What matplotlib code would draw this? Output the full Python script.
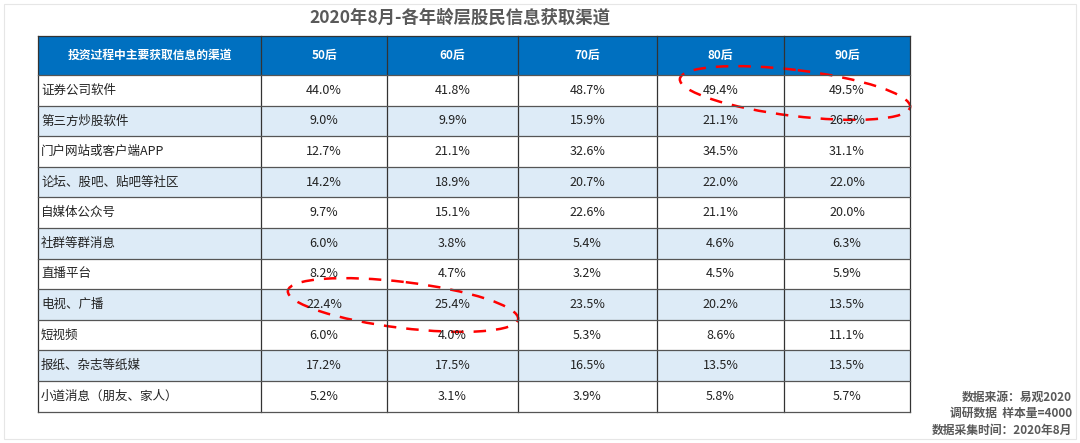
import matplotlib.pyplot as plt
from matplotlib.patches import Rectangle, Ellipse

plt.rcParams['font.family'] = ['Noto Sans CJK SC', 'DejaVu Sans']

title = '2020年8月-各年龄层股民信息获取渠道'
header = ['投资过程中主要获取信息的渠道', '50后', '60后', '70后', '80后', '90后']
channels = ['证券公司软件', '第三方炒股软件', '门户网站或客户端APP', '论坛、股吧、贴吧等社区',
            '自媒体公众号', '社群等群消息', '直播平台', '电视、广播', '短视频',
            '报纸、杂志等纸媒', '小道消息（朋友、家人）']
v50 = [44.0, 9.0, 12.7, 14.2, 9.7, 6.0, 8.2, 22.4, 6.0, 17.2, 5.2]
v60 = [41.8, 9.9, 21.1, 18.9, 15.1, 3.8, 4.7, 25.4, 4.0, 17.5, 3.1]
v70 = [48.7, 15.9, 32.6, 20.7, 22.6, 5.4, 3.2, 23.5, 5.3, 16.5, 3.9]
v80 = [49.4, 21.1, 34.5, 22.0, 21.1, 4.6, 4.5, 20.2, 8.6, 13.5, 5.8]
v90 = [49.5, 26.5, 31.1, 22.0, 20.0, 6.3, 5.9, 13.5, 11.1, 13.5, 5.7]
source = ['数据来源：易观2020', '调研数据  样本量=4000', '数据采集时间：2020年8月']

cols = [38, 261, 387, 518, 657, 784, 910]
top, head_h, row_h = 36, 39, 30.6

fig = plt.figure(figsize=(10.8, 4.43), dpi=100)
ax = fig.add_axes([0, 0, 1, 1])
ax.set_xlim(0, 1080)
ax.set_ylim(443, 0)
ax.axis('off')
ax.add_patch(Rectangle((4, 4), 1072, 435, fill=False, ec='#e6e6e6', lw=0.8))

ax.text(460, 18, title, ha='center', va='center', fontsize=12.5, weight='bold', color='#595959')

# header
ax.add_patch(Rectangle((cols[0], top), cols[-1] - cols[0], head_h, fc='#0070C0', ec='none'))
for i, h in enumerate(header):
    ax.text((cols[i] + cols[i + 1]) / 2, top + head_h / 2, h, ha='center', va='center',
            fontsize=8.5, weight='bold', color='white')

data = [v50, v60, v70, v80, v90]
for r, ch in enumerate(channels):
    y0 = top + head_h + r * row_h
    if r % 2 == 1:
        ax.add_patch(Rectangle((cols[0], y0), cols[-1] - cols[0], row_h, fc='#DDEBF7', ec='none'))
    ax.text(cols[0] + 3, y0 + row_h / 2, ch, ha='left', va='center', fontsize=9, color='#222222')
    for c, vals in enumerate(data):
        ax.text((cols[c + 1] + cols[c + 2]) / 2, y0 + row_h / 2, f'{vals[r]:.1f}%',
                ha='center', va='center', fontsize=9, color='#222222')

bottom = top + head_h + len(channels) * row_h
for x in cols:
    ax.plot([x, x], [top, bottom], color='#333333', lw=0.9)
for r in range(len(channels) + 1):
    y = top + head_h + r * row_h
    ax.plot([cols[0], cols[-1]], [y, y], color='#555555', lw=0.9)
ax.plot([cols[0], cols[-1]], [top, top], color='#333333', lw=0.9)

# highlight ellipses
for cx, cy in [(795, 93), (403, 305)]:
    ax.add_patch(Ellipse((cx, cy), 232, 46, angle=7, fill=False, ec='red', lw=1.8, ls=(0, (5, 4))))

for i, s in enumerate(source):
    ax.text(1072, 397 + i * 16.5, s, ha='right', va='center', fontsize=8.5, weight='bold', color='#595959')

fig.savefig('out.png', dpi=100)
